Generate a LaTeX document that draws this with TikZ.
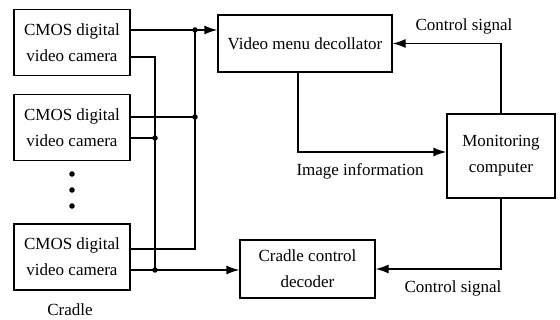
\documentclass[tikz,border=0pt]{standalone}
\usepackage{fontspec}
\setmainfont{Liberation Serif}
\usepackage{xcolor}
\usepackage{tikz}
\usetikzlibrary{positioning,arrows.meta,calc}

\begin{document}
\begin{tikzpicture}[
    x=1pt, y=-1pt,
    node distance=18pt and 20pt,
    every node/.style={font=\fontsize{17}{26}\selectfont},
    box/.style={rectangle, draw=black, line width=1.3pt, align=center, inner sep=2pt},
    cambox/.style={box, minimum width=116pt, minimum height=66pt},
    wire/.style={line width=1.3pt},
    arr/.style={wire, -{Latex[length=13pt,width=9pt]}},
    jdot/.style={circle, fill=black, inner sep=0pt, minimum size=5.5pt},
    lbl/.style={inner sep=1pt},
]
\useasboundingbox (0,0) rectangle (560,320);
% cameras
\node[cambox] (cam1) at (72,42.5) {CMOS digital\\video camera};
\node[cambox, below=18pt of cam1] (cam2) {CMOS digital\\video camera};
\node[cambox, below=62pt of cam2] (cam3) {CMOS digital\\video camera};
\foreach \yy in {174,190,206} \fill (72,\yy) circle (2.8pt);
\node[anchor=south] (cradle) at (70,319) {Cradle};
% processing blocks
\node[box, minimum width=174pt, minimum height=57pt] (vmd) at (305,43.5) {Video menu decollator};
\node[box, minimum width=108pt, minimum height=84pt] (mon) at (501,156) {Monitoring\\computer};
\node[box, minimum width=135pt, minimum height=58pt] (ccd) at (307.5,269) {Cradle control\\decoder};
% junctions
\coordinate (ja1) at (195,30);
\coordinate (ja2) at (195,117);
\coordinate (ja3) at (195,249);
\coordinate (jb1) at (155,57);
\coordinate (jb2) at (155,138);
\coordinate (jb3) at (155,270);
\coordinate (imgc) at (298,152);
% video bus
\draw[wire] (cam1.east |- ja1) -- (ja1);
\draw[wire] (cam2.east |- ja2) -- (ja2);
\draw[wire] (cam3.east |- ja3) -- (ja3) -- (ja1);
\draw[arr] (ja1) -- (vmd.west |- ja1);
% cradle bus
\draw[wire] (cam1.east |- jb1) -- (jb1) -- (jb3);
\draw[wire] (cam2.east |- jb2) -- (jb2);
\draw[wire] (cam3.east |- jb3) -- (jb3);
\draw[arr] (jb3) -- (ccd.west |- jb3);
\foreach \j in {ja1,ja2,jb2,jb3} \node[jdot] at (\j) {};
% monitoring links
\draw[arr] (mon.north) -- (mon.north |- vmd.east) -- (vmd.east);
\node[lbl] (ctl1) at (464,26) {Control signal};
\draw[arr, line width=1.7pt] (vmd.south -| imgc) -- (imgc) -- (mon.west |- imgc);
\node[lbl] (img) at (360,171) {Image information};
\draw[arr] (mon.south) -- (mon.south |- ccd.east) -- (ccd.east);
\node[lbl] (ctl2) at (453,288) {Control signal};
\end{tikzpicture}
\end{document}
